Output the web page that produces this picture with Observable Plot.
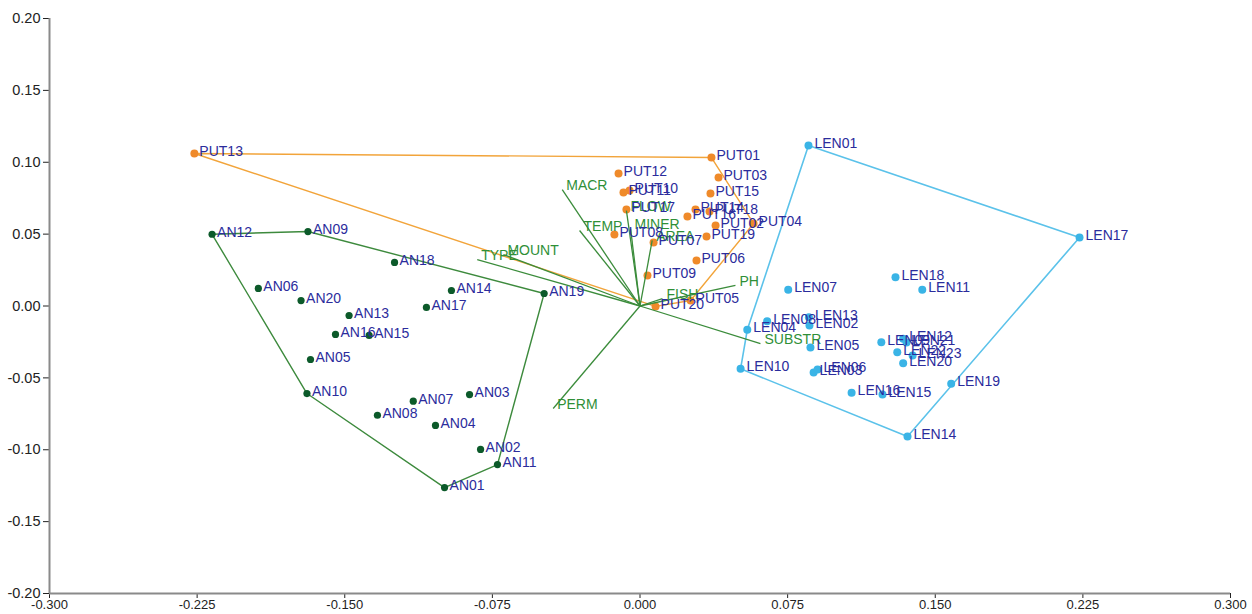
<!DOCTYPE html>
<html><head><meta charset="utf-8">
<script src="https://cdn.jsdelivr.net/npm/d3@7"></script>
<script src="https://cdn.jsdelivr.net/npm/@observablehq/plot@0.6"></script>
<style>body{margin:0;background:#fff} svg{display:block}</style>
</head><body><div id="chart"></div>
<script>
// ---- data ----
const xTicks = [-0.3, -0.225, -0.15, -0.075, 0, 0.075, 0.15, 0.225, 0.3];
const yTicks = [-0.2, -0.15, -0.1, -0.05, 0, 0.05, 0.1, 0.15, 0.2];

const anNames = ["AN01","AN02","AN03","AN04","AN05","AN06","AN07","AN08","AN09","AN10","AN11","AN12","AN13","AN14","AN15","AN16","AN17","AN18","AN19","AN20"];
const anX = [-0.0993,-0.0810,-0.0866,-0.1039,-0.1674,-0.1939,-0.1152,-0.1334,-0.1687,-0.1692,-0.0724,-0.2174,-0.1478,-0.0958,-0.1376,-0.1547,-0.1085,-0.1247,-0.0487,-0.1722];
const anY = [-0.1263,-0.0998,-0.0616,-0.0831,-0.0372,0.0122,-0.0662,-0.0760,0.0518,-0.0609,-0.1103,0.0499,-0.0066,0.0108,-0.0205,-0.0198,-0.0010,0.0303,0.0087,0.0038];

const putNames = ["PUT01","PUT02","PUT03","PUT04","PUT05","PUT06","PUT07","PUT08","PUT09","PUT10","PUT11","PUT12","PUT13","PUT14","PUT15","PUT16","PUT17","PUT18","PUT19","PUT20"];
const putX = [0.0363,0.0384,0.0399,0.0577,0.0257,0.0287,0.0069,-0.0130,0.0038,-0.0053,-0.0084,-0.0109,-0.2264,0.0282,0.0358,0.0241,-0.0069,0.0353,0.0338,0.0079];
const putY = [0.1033,0.0560,0.0894,0.0574,0.0038,0.0317,0.0442,0.0497,0.0212,0.0803,0.0790,0.0922,0.1061,0.0671,0.0783,0.0623,0.0671,0.0657,0.0483,-0.0003];

const lenNames = ["LEN01","LEN02","LEN03","LEN04","LEN05","LEN06","LEN07","LEN08","LEN09","LEN10","LEN11","LEN12","LEN13","LEN14","LEN15","LEN16","LEN17","LEN18","LEN19","LEN20","LEN21","LEN22","LEN23"];
const lenX = [0.0856,0.0861,0.0882,0.0545,0.0866,0.0902,0.0753,0.0646,0.1226,0.0511,0.1434,0.1337,0.0858,0.1359,0.1232,0.1075,0.2233,0.1298,0.1581,0.1337,0.1354,0.1307,0.1385];
const lenY = [0.1117,-0.0136,-0.0463,-0.0166,-0.0289,-0.0442,0.0113,-0.0106,-0.0252,-0.0437,0.0113,-0.0228,-0.0078,-0.0908,-0.0616,-0.0604,0.0477,0.0200,-0.0541,-0.0398,-0.0254,-0.0321,-0.0344];

const vecNames = ["MACR","FLOW","TEMP","MINER","AREA","TYPE","MOUNT","PH","FISH","SUBSTR","PERM"];
const vecX = [-0.0395,-0.0069,-0.0307,-0.0048,0.0062,-0.0827,-0.0694,0.0485,0.0114,0.0612,-0.0441];
const vecY = [0.0810,0.0663,0.0525,0.0539,0.0456,0.0323,0.0358,0.0143,0.0052,-0.0261,-0.0713];

// ---- tables ----
const rows = (names, xs, ys) => names.map((n, i) => ({name: n, x: xs[i], y: ys[i]}));
const an = rows(anNames, anX, anY);
const put = rows(putNames, putX, putY);
const len = rows(lenNames, lenX, lenY);
const vec = rows(vecNames, vecX, vecY);

const labelColor = "#2b2c9c";
const font = "'Liberation Sans', Arial, Helvetica, sans-serif";

const chart = Plot.plot({
  width: 1252, height: 614,
  marginLeft: 49, marginRight: 22, marginTop: 18, marginBottom: 21,
  style: {fontFamily: font, fontSize: "13px", color: "#222", background: "#fff"},
  x: {domain: [-0.3, 0.3], label: null},
  y: {domain: [-0.2, 0.2], label: null},
  marks: [
    Plot.axisX({ticks: xTicks, tickFormat: d => d.toFixed(3), tickSize: 5, tickPadding: 1, fontSize: 13, label: null}),
    Plot.axisY({ticks: yTicks, tickFormat: d => d.toFixed(2), tickSize: 6, tickPadding: 3, fontSize: 14.5, label: null}),
    Plot.ruleX([-0.3], {stroke: "#8a8a8a", strokeWidth: 2}),
    Plot.ruleY([-0.2], {stroke: "#8a8a8a", strokeWidth: 2}),
    Plot.hull(an, {x: "x", y: "y", stroke: "#3d8a3d", strokeWidth: 1.4, fill: "none"}),
    Plot.hull(put, {x: "x", y: "y", stroke: "#f2a43a", strokeWidth: 1.4, fill: "none"}),
    Plot.hull(len, {x: "x", y: "y", stroke: "#5bc2ea", strokeWidth: 1.6, fill: "none"}),
    Plot.dot(put, {x: "x", y: "y", r: 4, fill: "#ef8a2a"}),
    Plot.link(vec, {x1: () => 0, y1: () => 0, x2: "x", y2: "y", stroke: "#3b8c3b", strokeWidth: 1.3}),
    Plot.dot(an, {x: "x", y: "y", r: 3.6, fill: "#0c5a2a"}),
    Plot.dot(len, {x: "x", y: "y", r: 4, fill: "#3ab4e6"}),
    Plot.text(vec, {x: "x", y: "y", text: "name", textAnchor: "start", dx: 4, dy: -4, fill: "#2f8f37", fontSize: 14}),
    Plot.text(an, {x: "x", y: "y", text: "name", textAnchor: "start", dx: 5, dy: -2, fill: labelColor, fontSize: 14}),
    Plot.text(put, {x: "x", y: "y", text: "name", textAnchor: "start", dx: 5, dy: -2, fill: labelColor, fontSize: 14}),
    Plot.text(len, {x: "x", y: "y", text: "name", textAnchor: "start", dx: 6, dy: -2, fill: labelColor, fontSize: 14})
  ]
});
document.getElementById("chart").append(chart);
</script>
</body></html>
